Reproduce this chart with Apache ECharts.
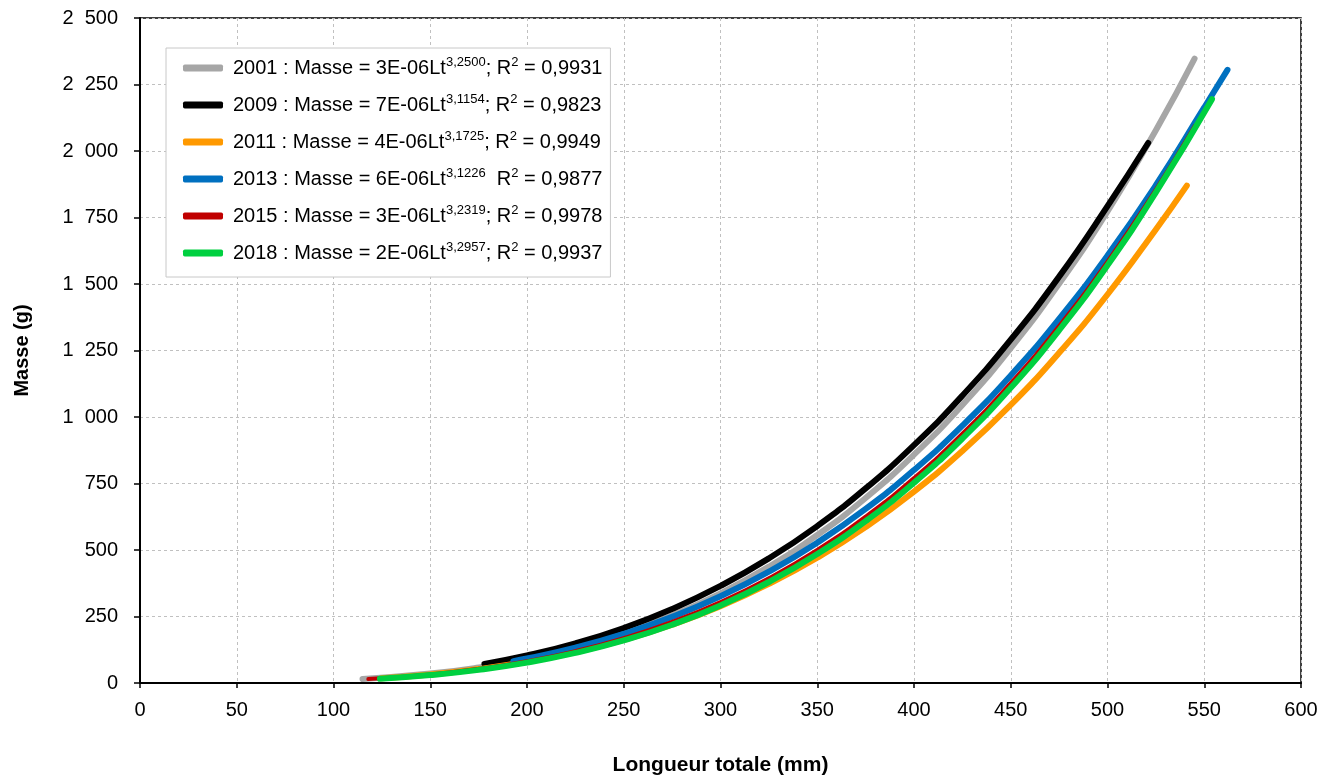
<!DOCTYPE html>
<html>
<head>
<meta charset="utf-8">
<script src="https://cdn.jsdelivr.net/npm/echarts@6/dist/echarts.min.js"></script>
<style>
  html, body { margin: 0; padding: 0; background: #fff; }
  #main { width: 1332px; height: 778px; }
</style>
</head>
<body>
<div id="main"></div>
<script>
// Longueur totale (mm) / Masse (g)
const x2001 = [115, 150, 175, 200, 225, 250, 275, 300, 325, 350, 375, 400, 425, 450, 475, 500, 525, 545];
const y2001 = [15, 35.4, 58.5, 90.3, 132.4, 186.4, 254.1, 337.1, 437.3, 556.2, 695.7, 858.5, 1045.2, 1258.9, 1501, 1773, 2078, 2347];

const x2009 = [178, 200, 225, 250, 275, 300, 325, 350, 375, 400, 425, 450, 475, 500, 521];
const y2009 = [71.8, 103.2, 149, 206.9, 278.4, 365, 468.4, 590, 731.5, 894.6, 1080.4, 1290.8, 1527.7, 1792.6, 2030];

const x2011 = [125, 150, 175, 200, 225, 250, 275, 300, 325, 350, 375, 400, 425, 450, 475, 500, 525, 541];
const y2011 = [18, 32, 52.3, 79.8, 116, 162, 219.2, 288.9, 372.4, 471.1, 586.4, 719.6, 872.3, 1045.5, 1241.3, 1460.6, 1705.2, 1870];

const x2013 = [193, 200, 225, 250, 275, 300, 325, 350, 375, 400, 425, 450, 475, 500, 525, 550, 562];
const y2013 = [82.2, 91.9, 132.8, 184.5, 248.5, 326.1, 418.6, 527.5, 654.3, 800.6, 967.4, 1156.2, 1368.9, 1606.8, 1871.3, 2163.7, 2305];

const x2015 = [118, 150, 175, 200, 225, 250, 275, 300, 325, 350, 375, 400, 425, 450, 475, 500, 525, 545];
const y2015 = [14.9, 32.4, 53.3, 82, 120, 168.7, 229.5, 304, 393.8, 500.3, 625.3, 770.4, 937.1, 1127.1, 1342.4, 1584.4, 1855.2, 2093.5];

const x2018 = [124, 150, 175, 200, 225, 250, 275, 300, 325, 350, 375, 400, 425, 450, 475, 500, 525, 554];
const y2018 = [15.9, 29.7, 49.4, 76.7, 113, 159.9, 218.9, 291.7, 379.7, 484.7, 608.5, 752.8, 919.2, 1109.5, 1326.1, 1570.4, 1844.4, 2195];

const names = ['2001', '2009', '2011', '2013', '2015', '2018'];
const coefs = ['3E-06', '7E-06', '4E-06', '6E-06', '3E-06', '2E-06'];
const expos = ['3,2500', '3,1154', '3,1725', '3,1226', '3,2319', '3,2957'];
const seps = [';', ';', ';', ' ', ';', ';'];
const r2 = ['0,9931', '0,9823', '0,9949', '0,9877', '0,9978', '0,9937'];
const colors = ['#a6a6a6', '#000000', '#ff9900', '#0070c0', '#c00000', '#00d040'];
const widths = [6, 6, 6, 6, 4, 6];

const xs = [x2001, x2009, x2011, x2013, x2015, x2018];
const ys = [y2001, y2009, y2011, y2013, y2015, y2018];

const FONT = '"Liberation Sans", Arial, sans-serif';

const chart = echarts.init(document.getElementById('main'));

const series = names.map((n, i) => ({
    name: n,
    type: 'line',
    data: xs[i].map((x, j) => [x, ys[i][j]]),
    smooth: true,
    showSymbol: false,
    symbol: 'none',
    lineStyle: {color: colors[i], width: widths[i], cap: 'round'},
    itemStyle: {color: colors[i]},
    z: 2 + i
}));

// "2 500" style labels, wide gap as in the original
const thousands = v => {
    const s = String(v);
    return s.length > 3 ? s.slice(0, s.length - 3) + '  ' + s.slice(-3) : s;
};

const option = {
    animation: false,
    backgroundColor: '#fff',
    textStyle: {fontFamily: FONT},
    grid: {
        left: 140, right: 31, top: 18, bottom: 95,
        containLabel: false,
        outerBoundsMode: 'none',
        show: true, borderColor: '#000', borderWidth: 1.5
    },
    legend: {
        orient: 'vertical',
        left: 166, top: 48,
        itemWidth: 40, itemHeight: 7,
        itemGap: 15,
        icon: 'roundRect',
        padding: [8, 8, 14, 17],
        backgroundColor: '#fff',
        borderColor: '#c8c8c8',
        borderWidth: 1,
        data: names,
        formatter: n => {
            const i = names.indexOf(n);
            return '{f|' + n + ' : Masse = ' + coefs[i] + 'Lt}{s|' + expos[i] + '}{a|' + seps[i] + ' R}{s|2}{a| = ' + r2[i] + '}';
        },
        textStyle: {
            fontFamily: FONT,
            color: '#000',
            rich: {
                f: {fontSize: 20, lineHeight: 24, fontFamily: FONT, color: '#000', padding: [0, 0, 0, 5]},
                a: {fontSize: 20, lineHeight: 24, fontFamily: FONT, color: '#000'},
                s: {fontSize: 13, fontFamily: FONT, color: '#000', verticalAlign: 'top', padding: [0, 0, 10, 0]}
            }
        }
    },
    xAxis: {
        type: 'value',
        min: 0, max: 600, interval: 50,
        name: 'Longueur totale (mm)',
        nameLocation: 'middle',
        nameGap: 72,
        nameTextStyle: {fontSize: 21, fontWeight: 'bold', color: '#000', fontFamily: FONT},
        axisLine: {show: true, onZero: false, lineStyle: {color: '#000', width: 2}},
        axisTick: {show: true, length: 5, lineStyle: {color: '#000', width: 1.5}},
        axisLabel: {fontSize: 20, color: '#000', margin: 17, fontFamily: FONT},
        splitLine: {show: true, lineStyle: {color: '#c0c0c0', type: [3, 3], width: 1}}
    },
    yAxis: {
        type: 'value',
        min: 0, max: 2500, interval: 250,
        name: 'Masse (g)',
        nameLocation: 'middle',
        nameGap: 108,
        nameRotate: 90,
        nameTextStyle: {fontSize: 20, fontWeight: 'bold', color: '#000', fontFamily: FONT},
        axisLine: {show: true, lineStyle: {color: '#000', width: 2}},
        axisTick: {show: true, length: 6, lineStyle: {color: '#000', width: 1.5}},
        axisLabel: {fontSize: 20, color: '#000', margin: 22, fontFamily: FONT, formatter: thousands},
        splitLine: {show: true, lineStyle: {color: '#c0c0c0', type: [3, 3], width: 1}}
    },
    series: series
};

chart.setOption(option);
</script>
</body>
</html>
